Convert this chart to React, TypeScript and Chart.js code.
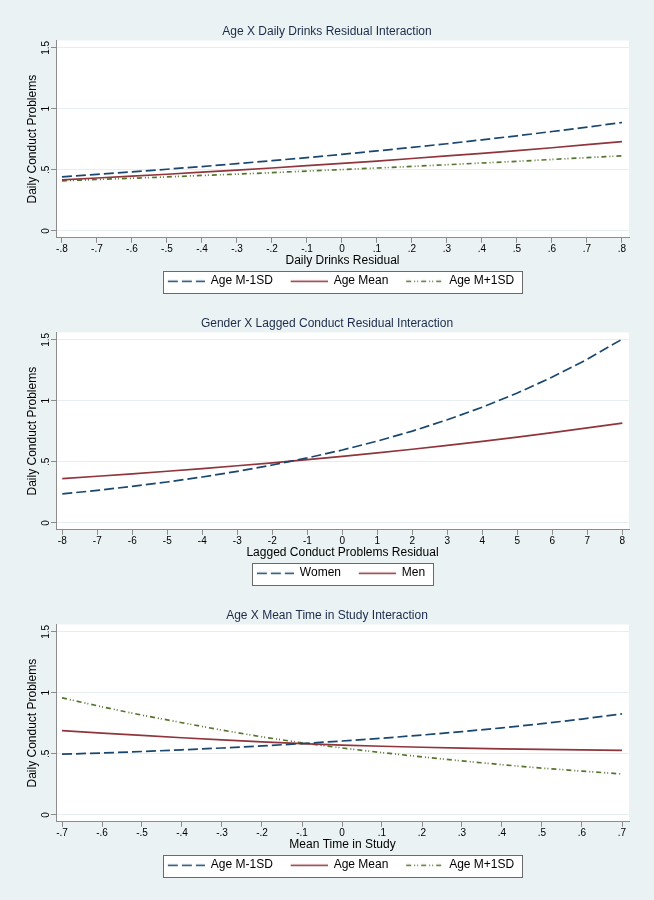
import { useEffect, useRef } from "react";
import { Chart, registerables } from "chart.js";

Chart.register(...registerables);

const FONT = "'Liberation Sans', Arial, Helvetica, sans-serif";
Chart.defaults.font.family = FONT;
Chart.defaults.color = "#000";

// ---------- Panel 1: Age X Daily Drinks Residual ----------
const drinksX = [-0.8, -0.7, -0.6, -0.5, -0.4, -0.3, -0.2, -0.1, 0, 0.1, 0.2, 0.3, 0.4, 0.5, 0.6, 0.7, 0.8];
const drinksLow = [0.443, 0.463, 0.483, 0.505, 0.527, 0.551, 0.575, 0.6, 0.627, 0.655, 0.684, 0.714, 0.746, 0.779, 0.814, 0.85, 0.888];
const drinksMean = [0.418, 0.433, 0.448, 0.464, 0.481, 0.498, 0.515, 0.534, 0.553, 0.572, 0.593, 0.614, 0.635, 0.658, 0.681, 0.706, 0.731];
const drinksHigh = [0.41, 0.421, 0.431, 0.442, 0.454, 0.465, 0.477, 0.49, 0.502, 0.515, 0.528, 0.542, 0.556, 0.57, 0.585, 0.6, 0.615];
const drinksTicks = [-0.8, -0.7, -0.6, -0.5, -0.4, -0.3, -0.2, -0.1, 0, 0.1, 0.2, 0.3, 0.4, 0.5, 0.6, 0.7, 0.8];

// ---------- Panel 2: Gender X Lagged Conduct Residual ----------
const laggedX = [-8, -7, -6, -5, -4, -3, -2, -1, 0, 1, 2, 3, 4, 5, 6, 7, 8];
const laggedWomen = [0.237, 0.266, 0.299, 0.335, 0.376, 0.422, 0.474, 0.532, 0.597, 0.67, 0.752, 0.845, 0.948, 1.064, 1.195, 1.341, 1.506];
const laggedMen = [0.363, 0.382, 0.402, 0.423, 0.445, 0.468, 0.492, 0.518, 0.545, 0.573, 0.603, 0.635, 0.668, 0.702, 0.739, 0.778, 0.818];
const laggedTicks = [-8, -7, -6, -5, -4, -3, -2, -1, 0, 1, 2, 3, 4, 5, 6, 7, 8];

// ---------- Panel 3: Age X Mean Time in Study ----------
const timeX = [-0.7, -0.6, -0.5, -0.4, -0.3, -0.2, -0.1, 0, 0.1, 0.2, 0.3, 0.4, 0.5, 0.6, 0.7];
const timeLow = [0.497, 0.507, 0.519, 0.533, 0.548, 0.565, 0.584, 0.605, 0.628, 0.654, 0.682, 0.713, 0.747, 0.785, 0.828];
const timeMean = [0.69, 0.67, 0.651, 0.632, 0.614, 0.598, 0.584, 0.572, 0.562, 0.554, 0.547, 0.541, 0.536, 0.532, 0.528];
const timeHigh = [0.959, 0.885, 0.817, 0.755, 0.694, 0.639, 0.59, 0.548, 0.51, 0.475, 0.442, 0.411, 0.383, 0.358, 0.335];
const timeTicks = [-0.7, -0.6, -0.5, -0.4, -0.3, -0.2, -0.1, 0, 0.1, 0.2, 0.3, 0.4, 0.5, 0.6, 0.7];

const yTicks = [0, 0.5, 1, 1.5];
const yTitle = "Daily Conduct Problems";
const ageLabels = ["Age M-1SD", "Age Mean", "Age M+1SD"];
const genderLabels = ["Women", "Men"];

// ---------- styles ----------
const BG = "#eaf2f3";
const AXIS = "#8c8c8c";
const GRID = "#e6eef0";
const TITLE_COLOR = "#1c2b4a";
const BLUE = { color: "#1a476f", dash: [10, 4] };
const RED = { color: "#90353b", dash: [] as number[] };
const GREEN = { color: "#55752f", dash: [5, 3, 1, 2, 1, 3] };
const SAMPLE_LEN = 37;
const SAMPLE_MARGIN = 11;
const LINE_W = 1.7;

type Style = { color: string; dash: number[] };
type Series = { label: string; data: number[]; style: Style };
type PanelDef = {
  title: string;
  xTitle: string;
  xs: number[];
  xTicks: number[];
  xMin: number;
  xMax: number;
  series: Series[];
};

const panels: PanelDef[] = [
  {
    title: "Age X Daily Drinks Residual Interaction",
    xTitle: "Daily Drinks Residual",
    xs: drinksX,
    xTicks: drinksTicks,
    xMin: -0.817,
    xMax: 0.82,
    series: [
      { label: ageLabels[0], data: drinksLow, style: BLUE },
      { label: ageLabels[1], data: drinksMean, style: RED },
      { label: ageLabels[2], data: drinksHigh, style: GREEN },
    ],
  },
  {
    title: "Gender X Lagged Conduct Residual Interaction",
    xTitle: "Lagged Conduct Problems Residual",
    xs: laggedX,
    xTicks: laggedTicks,
    xMin: -8.18,
    xMax: 8.19,
    series: [
      { label: genderLabels[0], data: laggedWomen, style: BLUE },
      { label: genderLabels[1], data: laggedMen, style: RED },
    ],
  },
  {
    title: "Age X Mean Time in Study Interaction",
    xTitle: "Mean Time in Study",
    xs: timeX,
    xTicks: timeTicks,
    xMin: -0.715,
    xMax: 0.7175,
    series: [
      { label: ageLabels[0], data: timeLow, style: BLUE },
      { label: ageLabels[1], data: timeMean, style: RED },
      { label: ageLabels[2], data: timeHigh, style: GREEN },
    ],
  },
];

function fmt(v: number): string {
  const r = Math.round(v * 10) / 10;
  if (r === 0) return "0";
  return String(r).replace("0.", ".");
}

function makeSample(style: Style): HTMLCanvasElement {
  const c = document.createElement("canvas");
  c.width = SAMPLE_MARGIN + SAMPLE_LEN;
  c.height = 12;
  const ctx = c.getContext("2d")!;
  ctx.strokeStyle = style.color;
  ctx.lineWidth = LINE_W;
  ctx.setLineDash(style.dash);
  ctx.beginPath();
  ctx.moveTo(SAMPLE_MARGIN, 6.5);
  ctx.lineTo(SAMPLE_MARGIN + SAMPLE_LEN, 6.5);
  ctx.stroke();
  return c;
}

const framePlugin = {
  id: "stataFrame",
  afterLayout(chart: any) {
    const lg = chart.legend;
    if (!lg) return;
    const area = chart.chartArea;
    const target = (area.left + area.right) / 2 - 1.5;
    const current = (lg.left + lg.right) / 2 + SAMPLE_MARGIN / 2;
    const shift = target - current;
    lg.left += shift;
    lg.right += shift;
  },
  beforeDraw(chart: any) {
    const { ctx, chartArea } = chart;
    ctx.save();
    ctx.fillStyle = "#ffffff";
    ctx.fillRect(chartArea.left, chartArea.top, chartArea.right - chartArea.left, chartArea.bottom - chartArea.top);
    const lg = chart.legend;
    if (lg && lg.legendHitBoxes && lg.legendHitBoxes.length) {
      const hb = lg.legendHitBoxes;
      const first = hb[0];
      const last = hb[hb.length - 1];
      const x0 = Math.round(first.left + SAMPLE_MARGIN - 5) + 0.5;
      const x1 = Math.round(last.left + last.width + 8) + 0.5;
      const cy = first.top + first.height / 2;
      const y0 = Math.round(cy - 10) + 0.5;
      const y1 = Math.round(cy + 12) + 0.5;
      ctx.fillStyle = "#ffffff";
      ctx.fillRect(x0, y0, x1 - x0, y1 - y0);
      ctx.strokeStyle = "#6a6a6a";
      ctx.lineWidth = 1;
      ctx.strokeRect(x0, y0, x1 - x0, y1 - y0);
    }
    ctx.restore();
  },
};

function Panel({ def, top }: { def: PanelDef; top: number }) {
  const ref = useRef<HTMLCanvasElement | null>(null);
  useEffect(() => {
    if (!ref.current) return;
    const samples = def.series.map((s) => makeSample(s.style));
    const chart = new Chart(ref.current, {
      type: "line",
      data: {
        datasets: def.series.map((s) => ({
          label: s.label,
          data: def.xs.map((x, i) => ({ x, y: s.data[i] })),
          borderColor: s.style.color,
          backgroundColor: s.style.color,
          borderDash: s.style.dash,
          borderWidth: LINE_W,
          pointRadius: 0,
          pointHoverRadius: 0,
          fill: false,
          tension: 0,
        })),
      },
      options: {
        animation: false,
        responsive: false,
        devicePixelRatio: 1,
        events: [],
        layout: { padding: { top: 0, left: 25, right: 25, bottom: 3.2 } },
        plugins: {
          title: {
            display: true,
            text: def.title,
            color: TITLE_COLOR,
            font: { family: FONT, size: 12, weight: "normal", lineHeight: 1.2 },
            padding: { top: 24.3, bottom: 1.8 },
          },
          legend: {
            position: "bottom",
            labels: {
              usePointStyle: true,
              pointStyleWidth: SAMPLE_MARGIN + SAMPLE_LEN,
              padding: 6.8,
              color: "#000",
              font: { family: FONT, size: 12 },
              generateLabels: (c: any) => {
                const items = Chart.defaults.plugins.legend.labels.generateLabels(c);
                return items.map((it: any, i: number) => ({ ...it, pointStyle: samples[i] }));
              },
            },
          },
          tooltip: { enabled: false },
        },
        scales: {
          x: {
            type: "linear",
            min: def.xMin,
            max: def.xMax,
            afterBuildTicks: (axis: any) => {
              axis.ticks = def.xTicks.map((v) => ({ value: v }));
            },
            afterFit: (scale: any) => {
              scale.height = 30.2;
            },
            ticks: {
              callback: (v: any) => fmt(Number(v)),
              color: "#000",
              font: { family: FONT, size: 10 },
              padding: 0,
              minRotation: 0,
              maxRotation: 0,
              autoSkip: false,
            },
            grid: { drawOnChartArea: false, drawTicks: true, tickLength: 5, tickColor: AXIS, color: AXIS },
            border: { display: true, color: AXIS, width: 1 },
            title: {
              display: true,
              text: def.xTitle,
              color: "#000",
              font: { family: FONT, size: 12, lineHeight: 1.2 },
              padding: { top: 0, bottom: 0 },
            },
          },
          y: {
            type: "linear",
            min: -0.057,
            max: 1.56,
            afterBuildTicks: (axis: any) => {
              axis.ticks = yTicks.map((v) => ({ value: v }));
            },
            afterFit: (scale: any) => {
              scale.width = 31;
            },
            ticks: {
              callback: (v: any) => fmt(Number(v)),
              color: "#000",
              font: { family: FONT, size: 10 },
              padding: -2,
              minRotation: 90,
              maxRotation: 90,
              crossAlign: "center",
              autoSkip: false,
            },
            grid: { color: GRID, drawTicks: true, tickLength: 5, tickColor: AXIS },
            border: { display: true, color: AXIS, width: 1 },
            title: {
              display: true,
              text: yTitle,
              color: "#000",
              font: { family: FONT, size: 12, lineHeight: 1.2 },
              padding: { top: 0, bottom: 0 },
            },
          },
        },
      } as any,
      plugins: [framePlugin],
    });
    return () => chart.destroy();
  }, [def]);
  return (
    <canvas
      ref={ref}
      width={654}
      height={300}
      style={{ position: "absolute", left: 0, top, width: 654, height: 300, display: "block" }}
    />
  );
}

export default function App() {
  return (
    <div
      style={{
        position: "fixed",
        left: 0,
        top: 0,
        width: 654,
        height: 900,
        background: BG,
        overflow: "hidden",
      }}
    >
      {panels.map((p, i) => (
        <Panel key={i} def={p} top={i * 292} />
      ))}
    </div>
  );
}
